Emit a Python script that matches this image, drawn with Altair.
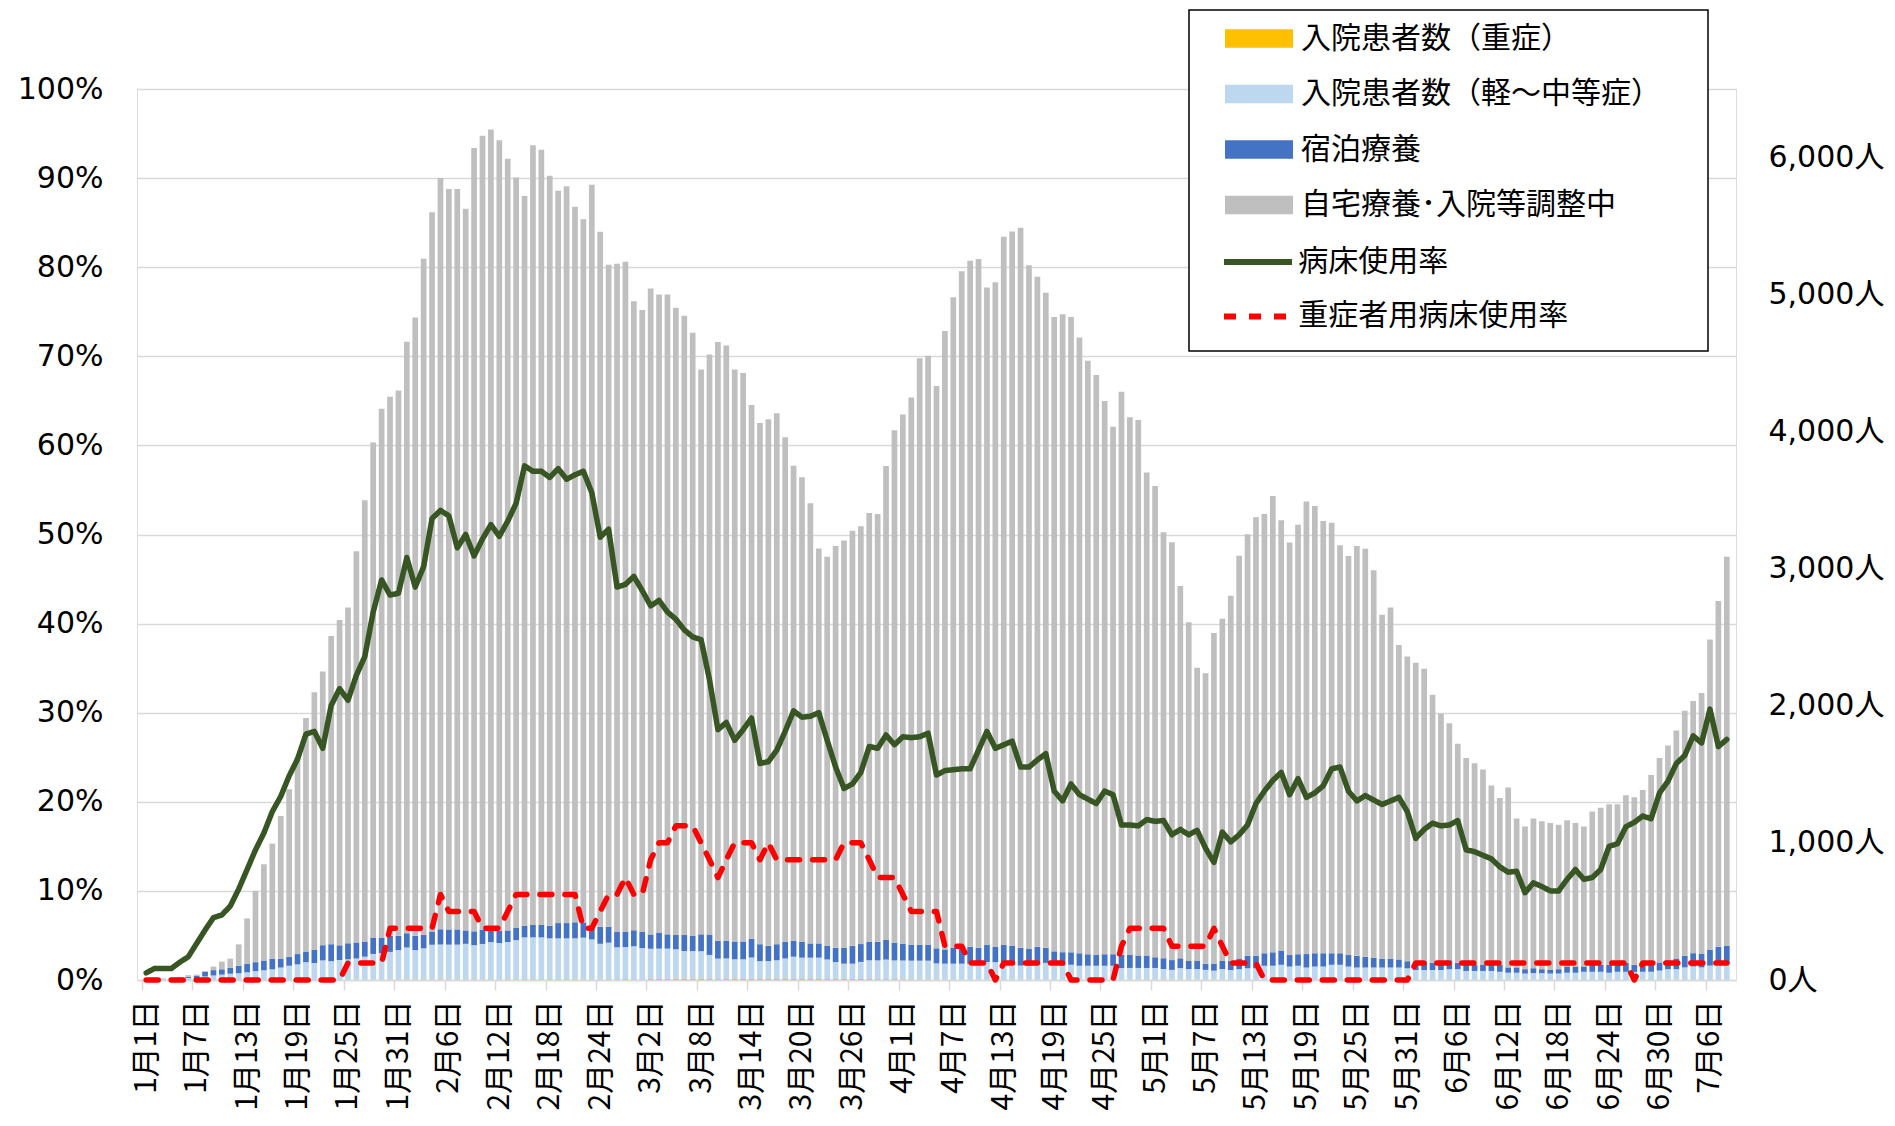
import altair as alt
import pandas as pd

# ---------------- data ----------------
TICK_LABELS = ["1月1日", "1月7日", "1月13日", "1月19日", "1月25日", "1月31日",
               "2月6日", "2月12日", "2月18日", "2月24日", "3月2日", "3月8日",
               "3月14日", "3月20日", "3月26日", "4月1日", "4月7日", "4月13日",
               "4月19日", "4月25日", "5月1日", "5月7日", "5月13日", "5月19日",
               "5月25日", "5月31日", "6月6日", "6月12日", "6月18日", "6月24日",
               "6月30日", "7月6日"]

# people, Jan 1 .. Jul 8 (189 days)
SEVERE = [0, 0, 0, 0, 0, 0, 0, 0, 0, 0, 0, 0, 0, 0, 0, 0, 0, 0, 0, 0,
          0, 0, 0, 0, 1, 1, 1, 1, 1, 3, 3, 3, 3, 3, 3, 5, 4, 4, 4, 4,
          3, 3, 3, 4, 5, 5, 5, 5, 5, 5, 5, 5, 3, 3, 4, 5, 5, 6, 5, 5,
          7, 8, 8, 9, 9, 9, 8, 7, 6, 7, 8, 8, 8, 7, 8, 7, 7, 7, 7, 7,
          7, 7, 7, 8, 8, 8, 7, 6, 6, 6, 5, 4, 4, 4, 4, 2, 2, 2, 1, 1,
          1, 0, 1, 1, 1, 1, 1, 1, 1, 1, 0, 0, 0, 0, 0, 0, 2, 3, 3, 3,
          3, 3, 2, 2, 2, 2, 2, 3, 2, 1, 1, 1, 1, 0, 0, 0, 0, 0, 0, 0,
          0, 0, 0, 0, 0, 0, 0, 0, 0, 0, 0, 1, 1, 1, 1, 1, 1, 1, 1, 1,
          1, 1, 1, 1, 1, 1, 1, 1, 1, 1, 1, 1, 1, 1, 1, 1, 1, 0, 1, 1,
          1, 1, 1, 1, 1, 1, 1, 1, 1]
MILD = [5, 8, 8, 8, 10, 15, 15, 26, 33, 39, 46, 49, 56, 65, 72, 78, 91, 104, 114, 130,
        124, 143, 137, 146, 150, 156, 169, 189, 195, 202, 215, 234, 215, 228, 254, 254, 254, 254, 260, 250,
        260, 273, 267, 273, 286, 306, 306, 306, 299, 299, 299, 299, 306, 293, 260, 267, 234, 234, 241, 228,
        221, 221, 221, 215, 202, 202, 202, 176, 150, 150, 143, 143, 156, 130, 130, 137, 150, 163, 156, 156,
        156, 143, 124, 111, 111, 124, 137, 137, 143, 137, 137, 137, 137, 137, 117, 117, 117, 117, 117, 111,
        130, 130, 117, 111, 104, 104, 124, 124, 111, 104, 111, 104, 104, 104, 104, 104, 85, 85, 85, 85,
        85, 78, 72, 85, 78, 78, 72, 65, 78, 72, 78, 85, 85, 104, 104, 111, 98, 104, 91, 98,
        98, 111, 111, 98, 91, 91, 91, 91, 91, 91, 85, 72, 72, 72, 72, 78, 78, 65, 65, 65,
        65, 59, 52, 52, 46, 49, 49, 46, 46, 52, 52, 59, 59, 59, 52, 59, 59, 59, 59, 59,
        68, 78, 78, 91, 98, 91, 104, 124, 117]
HOTEL = [0, 0, 0, 2, 4, 8, 17, 35, 39, 39, 42, 55, 61, 65, 71, 78, 62, 65, 75, 78,
         97, 111, 124, 107, 117, 117, 111, 117, 111, 117, 104, 104, 104, 97, 97, 111, 111, 111, 98, 101,
         104, 91, 91, 85, 91, 85, 91, 91, 91, 111, 111, 117, 111, 78, 124, 117, 111, 111, 117, 117,
         104, 117, 104, 104, 117, 110, 123, 149, 130, 130, 130, 130, 137, 124, 111, 117, 123, 117, 117, 104,
         104, 98, 104, 117, 130, 130, 136, 136, 143, 130, 123, 117, 117, 117, 110, 104, 117, 124, 124, 123,
         124, 111, 137, 136, 130, 124, 117, 110, 97, 98, 91, 91, 84, 78, 84, 84, 97, 97, 91, 91,
         78, 78, 71, 71, 59, 59, 45, 52, 59, 65, 78, 91, 91, 91, 98, 104, 84, 84, 98, 97,
         97, 84, 84, 84, 85, 78, 72, 65, 65, 59, 52, 45, 58, 52, 52, 65, 46, 46, 46, 46,
         46, 52, 39, 39, 32, 36, 29, 26, 32, 46, 46, 39, 52, 52, 59, 52, 65, 52, 58, 58,
         59, 65, 78, 85, 97, 98, 117, 117, 130]
HOME = [0, 2, 4, 6, 8, 12, 7, 2, 26, 56, 68, 156, 332, 520, 702, 839, 1043, 1222, 1437, 1703,
        1879, 1996, 2249, 2373, 2450, 2854, 3218, 3614, 3861, 3933, 3978, 4316, 4511, 4934, 5246, 5480, 5402, 5402, 5265, 5714,
        5792, 5837, 5765, 5629, 5473, 5324, 5687, 5655, 5473, 5343, 5376, 5220, 5129, 5428, 5070, 4829, 4875, 4888, 4589, 4537,
        4713, 4654, 4667, 4576, 4518, 4401, 4121, 4232, 4368, 4342, 4173, 4147, 3893, 3803, 3841, 3874, 3679, 3464, 3387, 3211,
        2880, 2840, 2931, 2970, 3029, 3048, 3127, 3120, 3458, 3738, 3861, 3991, 4277, 4296, 4102, 4511, 4745, 4927, 5005, 5024,
        4797, 4849, 5167, 5213, 5252, 4985, 4888, 4778, 4628, 4654, 4635, 4492, 4329, 4232, 4036, 3848, 4108, 3920, 3906, 3523,
        3438, 3107, 3049, 2717, 2470, 2139, 2119, 2412, 2496, 2665, 2938, 3074, 3198, 3205, 3328, 3139, 3010, 3133, 3302, 3263,
        3153, 3140, 2977, 2912, 2990, 2977, 2827, 2509, 2561, 2294, 2223, 2197, 2139, 1956, 1820, 1729, 1599, 1508, 1469, 1423,
        1306, 1215, 1313, 1086, 1040, 1092, 1079, 1072, 1053, 1066, 1046, 1020, 1118, 1144, 1170, 1170, 1222, 1222, 1268, 1378,
        1492, 1567, 1664, 1787, 1840, 1904, 2262, 2522, 2840]

# percent
BED_RATE = [0.8, 1.3, 1.3, 1.3, 2.0, 2.6, 4.1, 5.6, 7.0, 7.3,
            8.3, 10.2, 12.4, 14.6, 16.5, 18.9, 20.6, 22.9, 24.8, 27.6,
            27.9, 26.0, 30.8, 32.7, 31.4, 34.2, 36.3, 41.3, 44.9, 43.2,
            43.4, 47.4, 44.1, 46.4, 51.8, 52.7, 52.1, 48.5, 50.0, 47.6,
            49.5, 51.1, 49.8, 51.5, 53.5, 57.7, 57.1, 57.1, 56.4, 57.4,
            56.2, 56.7, 57.1, 54.7, 49.7, 50.6, 44.1, 44.4, 45.3, 43.7,
            42.0, 42.6, 41.3, 40.5, 39.3, 38.5, 38.2, 33.7, 28.1, 28.9,
            26.9, 28.1, 29.4, 24.3, 24.5, 25.8, 27.9, 30.2, 29.5, 29.6,
            30.0, 26.9, 23.9, 21.5, 22.0, 23.3, 26.2, 26.0, 27.5, 26.4,
            27.3, 27.2, 27.3, 27.7, 23.0, 23.5, 23.6, 23.7, 23.7, 25.8,
            27.9, 26.0, 26.4, 26.8, 23.9, 23.9, 24.7, 25.4, 21.2, 20.1,
            22.0, 20.8, 20.3, 19.8, 21.2, 20.8, 17.4, 17.4, 17.3, 18.0,
            17.8, 17.9, 16.3, 16.9, 16.3, 16.8, 14.8, 13.2, 16.6, 15.5,
            16.3, 17.4, 19.8, 21.2, 22.4, 23.3, 20.8, 22.6, 20.5, 21.0,
            21.8, 23.7, 23.9, 21.2, 20.1, 20.7, 20.2, 19.7, 20.1, 20.5,
            18.9, 15.9, 16.9, 17.6, 17.3, 17.4, 17.9, 14.6, 14.4, 14.0,
            13.6, 12.7, 12.1, 12.2, 9.8, 10.9, 10.5, 10.0, 10.0, 11.3,
            12.4, 11.3, 11.5, 12.4, 15.0, 15.3, 17.2, 17.7, 18.4, 18.1,
            21.0, 22.3, 24.3, 25.2, 27.4, 26.6, 30.4, 26.2, 27.0]
SEVERE_BED_RATE = [0, 0, 0, 0, 0, 0, 0, 0, 0, 0, 0, 0, 0, 0, 0, 0, 0, 0, 0, 0,
                   0, 0, 0, 0, 1.9, 1.9, 1.9, 1.9, 1.9, 5.8, 5.8, 5.8, 5.8, 5.8, 5.8, 9.6, 7.7, 7.7, 7.7, 7.7,
                   5.8, 5.8, 5.8, 7.7, 9.6, 9.6, 9.6, 9.6, 9.6, 9.6, 9.6, 9.6, 5.8, 5.8, 7.7, 9.6, 9.6, 11.5, 9.6, 9.6,
                   13.5, 15.4, 15.4, 17.3, 17.3, 17.3, 15.4, 13.5, 11.5, 13.5, 15.4, 15.4, 15.4, 13.5, 15.4, 13.5, 13.5, 13.5, 13.5, 13.5,
                   13.5, 13.5, 13.5, 15.4, 15.4, 15.4, 13.5, 11.5, 11.5, 11.5, 9.6, 7.7, 7.7, 7.7, 7.7, 3.8, 3.8, 3.8, 1.9, 1.9,
                   1.9, 0, 1.9, 1.9, 1.9, 1.9, 1.9, 1.9, 1.9, 1.9, 0, 0, 0, 0, 0, 0, 3.8, 5.8, 5.8, 5.8,
                   5.8, 5.8, 3.8, 3.8, 3.8, 3.8, 3.8, 5.8, 3.8, 1.9, 1.9, 1.9, 1.9, 0, 0, 0, 0, 0, 0, 0,
                   0, 0, 0, 0, 0, 0, 0, 0, 0, 0, 0, 1.9, 1.9, 1.9, 1.9, 1.9, 1.9, 1.9, 1.9, 1.9,
                   1.9, 1.9, 1.9, 1.9, 1.9, 1.9, 1.9, 1.9, 1.9, 1.9, 1.9, 1.9, 1.9, 1.9, 1.9, 1.9, 1.9, 0, 1.9, 1.9,
                   1.9, 1.9, 1.9, 1.9, 1.9, 1.9, 1.9, 1.9, 1.9]

BAR_NAMES = ["入院患者数（重症）", "入院患者数（軽～中等症）", "宿泊療養", "自宅療養･入院等調整中"]
BAR_COLORS = ["#FFC000", "#BDD7EE", "#4472C4", "#BFBFBF"]
LINE_NAMES = ["病床使用率", "重症者用病床使用率"]
LINE_COLORS = ["#375623", "#FF0000"]

# ---------------- tables ----------------
n = len(HOME)
bar_rows = []
for i in range(n):
    for k, (name, series) in enumerate(zip(BAR_NAMES, [SEVERE, MILD, HOTEL, HOME])):
        bar_rows.append({"day": i, "series": name, "people": series[i], "ord": k})
bars_df = pd.DataFrame(bar_rows)

line_rows = []
for i in range(n):
    for name, series in zip(LINE_NAMES, [BED_RATE, SEVERE_BED_RATE]):
        line_rows.append({"day": i, "line": name, "rate": series[i]})
lines_df = pd.DataFrame(line_rows)

W, H = 1599, 891
HALF = W / n / 2
JP = "Noto Sans CJK JP"
NUM = "DejaVu Sans, Noto Sans CJK JP"

tick_days = list(range(0, n, 6))[:len(TICK_LABELS)]
label_js = "[" + ",".join("'%s'" % t for t in TICK_LABELS) + "][round(datum.value / 6)]"

x_enc = alt.X(
    "day:Q",
    scale=alt.Scale(domain=[-0.5, n - 0.5], nice=False, zero=False),
    axis=alt.Axis(values=tick_days, labelExpr=label_js, labelAngle=270,
                  labelFont=JP, labelFontSize=30, labelColor="#000000",
                  labelPadding=10, labelOverlap=False, labelBound=False,
                  tickSize=10, tickColor="#D9D9D9", tickWidth=1.5,
                  tickOffset=-HALF, labelOffset=HALF,
                  domainColor="#D9D9D9", domainWidth=1.5, grid=False, title=None),
)

bars = alt.Chart(bars_df).mark_bar(size=5.7).encode(
    x=x_enc,
    y=alt.Y("people:Q", stack="zero",
            scale=alt.Scale(domain=[0, 6500], nice=False),
            axis=alt.Axis(orient="right", values=[0, 1000, 2000, 3000, 4000, 5000, 6000],
                          labelExpr="format(datum.value, ',') + '人'",
                          labelFont=NUM, labelFontSize=30, labelColor="#000000",
                          labelPadding=32, ticks=False, domain=False, grid=False, title=None)),
    fill=alt.Fill("series:N", scale=alt.Scale(domain=BAR_NAMES, range=BAR_COLORS),
                  legend=alt.Legend(orient="none", legendX=1088, legendY=-84.5, title=None,
                                    symbolType="M-1,-0.272L1,-0.272L1,0.272L-1,0.272Z",
                                    symbolSize=4624, symbolStrokeWidth=0,
                                    labelFont=JP, labelFontSize=30, labelColor="#000000",
                                    labelLimit=0, labelOffset=8, rowPadding=6.5, padding=0)),
    order=alt.Order("ord:Q", sort="ascending"),
)

line_legend = alt.Legend(orient="none", legendX=1084, legendY=136, title=None,
                         symbolType="stroke", symbolSize=4624, symbolStrokeWidth=6,
                         labelFont=JP, labelFontSize=30, labelColor="#000000",
                         labelLimit=0, labelOffset=3.3, rowPadding=2.4, padding=0)

lines = alt.Chart(lines_df).mark_line(strokeWidth=5.5, strokeCap="round", strokeJoin="round").encode(
    x=x_enc,
    y=alt.Y("rate:Q", scale=alt.Scale(domain=[0, 100], nice=False),
            axis=alt.Axis(orient="left", values=list(range(0, 101, 10)),
                          labelExpr="datum.value + '%'",
                          labelFont=NUM, labelFontSize=30, labelColor="#000000",
                          labelPadding=34, ticks=False, domain=False,
                          grid=True, gridColor="#D9D9D9", gridWidth=1.5, title=None)),
    stroke=alt.Stroke("line:N", scale=alt.Scale(domain=LINE_NAMES, range=LINE_COLORS),
                      legend=line_legend),
    strokeDash=alt.StrokeDash("line:N", scale=alt.Scale(domain=LINE_NAMES, range=[[1, 0], [12, 13]]),
                              legend=line_legend),
)

box = alt.Chart(pd.DataFrame({"k": [0]})).mark_rect(
    fill="white", stroke="black", strokeWidth=1.5
).encode(x=alt.value(1052), x2=alt.value(1571), y=alt.value(-79), y2=alt.value(262))

chart = alt.layer(bars, lines, box).resolve_scale(y="independent").properties(
    width=W, height=H,
    autosize=alt.AutoSizeParams(type="none"),
    padding={"left": 129, "top": 81, "right": 151, "bottom": 136},
).configure_view(stroke=None).configure(font=JP)

chart.save("out.html", embed_options={"renderer": "svg", "actions": False})
